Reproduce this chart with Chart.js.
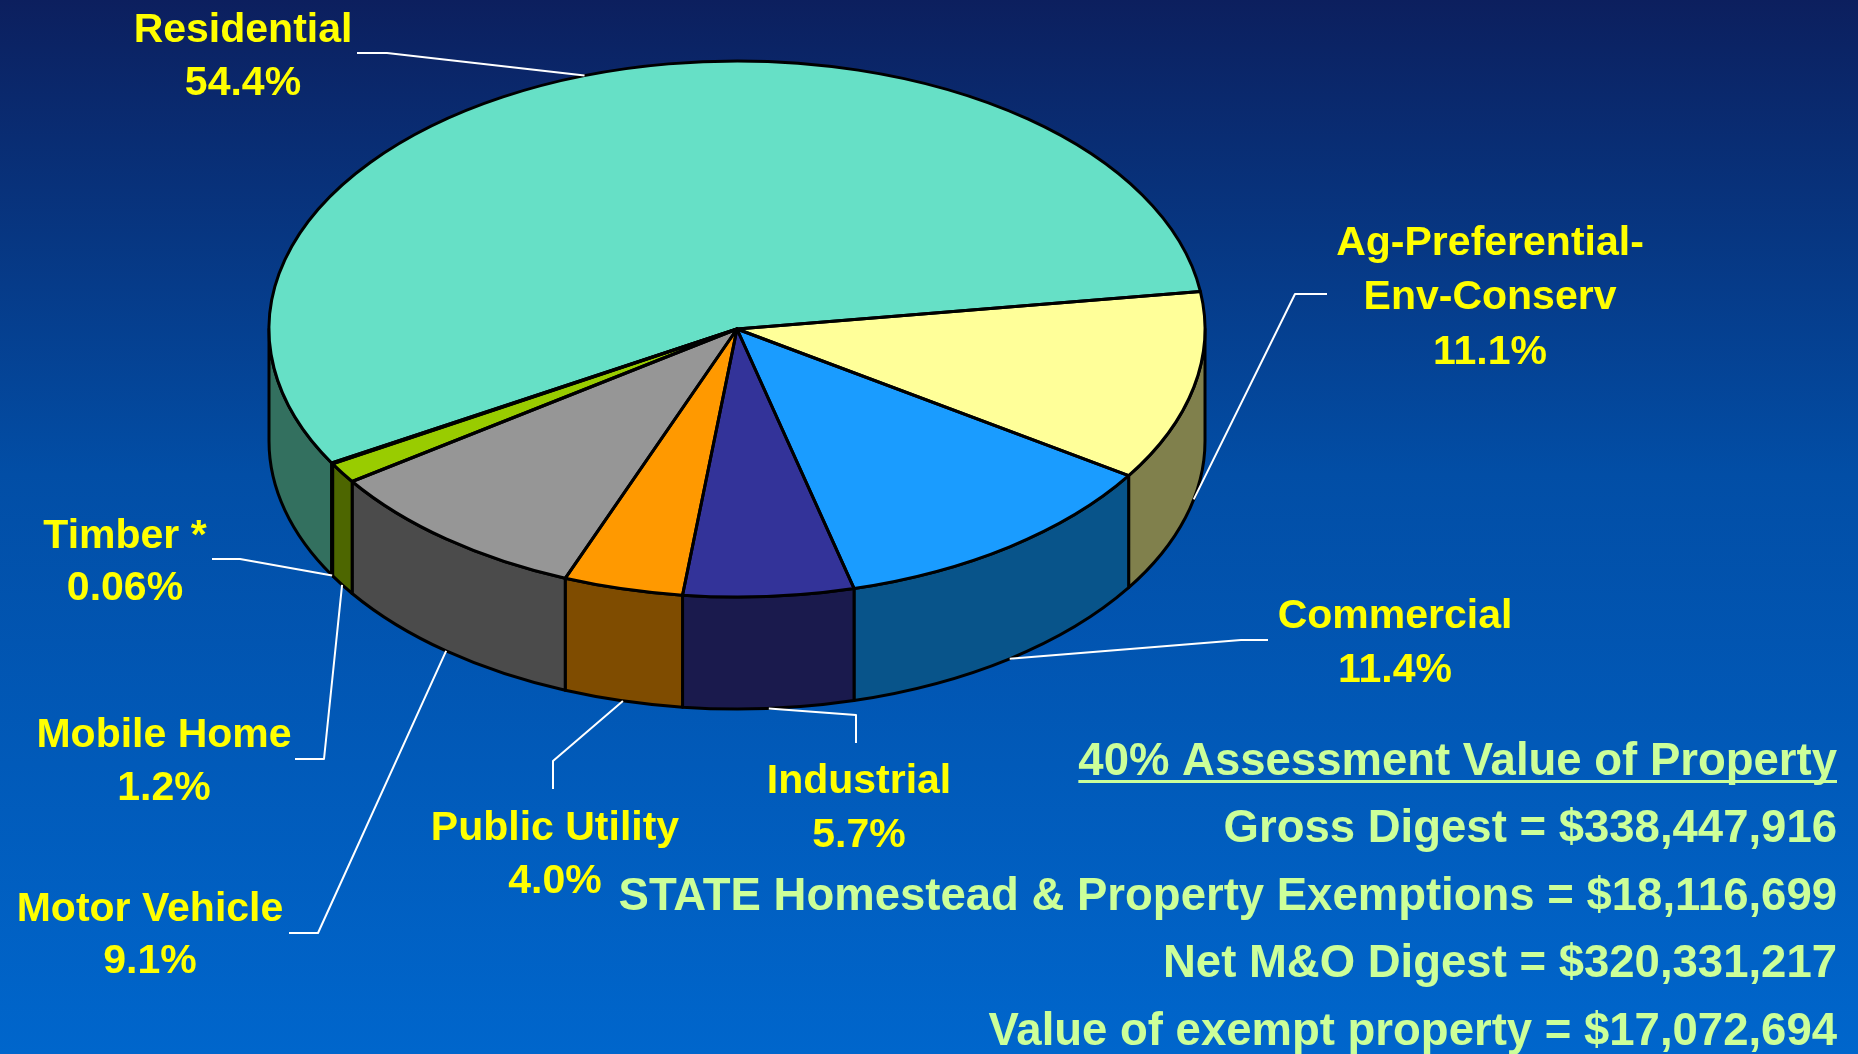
<!DOCTYPE html>
<html>
<head>
<meta charset="utf-8">
<script src="https://cdn.jsdelivr.net/npm/chart.js@4.4.1/dist/chart.umd.min.js"></script>
<style>
  html, body { margin: 0; padding: 0; overflow: hidden; background: #0a3a88; }
  #pie { display: block; }
</style>
</head>
<body>
<canvas id="pie" width="1858" height="1054"></canvas>
<script>
    // data
    const categories = ["Residential", "Ag-Preferential-Env-Conserv", "Commercial", "Industrial",
        "Public Utility", "Motor Vehicle", "Mobile Home", "Timber *"];
    const shares = [54.4, 11.1, 11.4, 5.7, 4.0, 9.1, 1.2, 0.06];
    const shareLabels = ["54.4%", "11.1%", "11.4%", "5.7%", "4.0%", "9.1%", "1.2%", "0.06%"];
    const topColors = ["#66e0c6", "#ffff99", "#1a9cff", "#333399", "#ff9900", "#969696", "#99cc00", "#2f8f5f"];
    const sideColors = ["#33705f", "#80804c", "#08548a", "#1a1a4d", "#7f4c00", "#4b4b4b", "#4d6600", "#184830"];
    const summaryTitle = "40% Assessment Value of Property";
    const summaryLines = [
        "Gross Digest = $338,447,916",
        "STATE Homestead & Property Exemptions = $18,116,699",
        "Net M&O Digest = $320,331,217",
        "Value of exempt property = $17,072,694"
    ];

    // layout of the 3d pie and its labels
    const PIE = { cx: 737, cy: 329, rx: 468, ry: 268, depth: 112 };
    const labelLayout = [
        { lines: ["Residential"], x: 243, y: [42, 95], leader: [[357, 53], [387, 53]] },
        { lines: ["Ag-Preferential-", "Env-Conserv"], x: 1490, y: [255, 309, 364], leader: [[1327, 294], [1295, 294]] },
        { lines: ["Commercial"], x: 1395, y: [628, 682], leader: [[1268, 640], [1241, 640]] },
        { lines: ["Industrial"], x: 859, y: [793, 847], leader: [[856, 743], [856, 715]] },
        { lines: ["Public Utility"], x: 555, y: [840, 893], leader: [[553, 789], [553, 761]] },
        { lines: ["Motor Vehicle"], x: 150, y: [921, 973], leader: [[289, 933], [318, 933]] },
        { lines: ["Mobile Home"], x: 164, y: [747, 800], leader: [[295, 759], [324, 759]] },
        { lines: ["Timber *"], x: 125, y: [548, 600], leader: [[212, 559], [240, 559]] }
    ];

    function arcAngles(arc) {
        const p = arc.getProps(["startAngle", "endAngle"], true);
        return [p.startAngle, p.endAngle];
    }

    const pie3d = {
        id: "pie3d",
        beforeDraw(chart) {
            const ctx = chart.ctx;
            const g = ctx.createLinearGradient(0, 0, 0, chart.height);
            g.addColorStop(0, "#0c1f5e");
            g.addColorStop(0.45, "#024ea6");
            g.addColorStop(1, "#0066cc");
            ctx.save();
            ctx.fillStyle = g;
            ctx.fillRect(0, 0, chart.width, chart.height);
            ctx.restore();
        },
        beforeDatasetsDraw(chart) {
            const ctx = chart.ctx;
            const arcs = chart.getDatasetMeta(0).data;
            const { cx, cy, rx, ry, depth } = PIE;

            // side walls, only the front half is visible
            arcs.forEach((arc, i) => {
                const [a, b] = arcAngles(arc);
                for (let k = -1; k <= 2; k++) {
                    const lo = Math.max(a, 2 * Math.PI * k);
                    const hi = Math.min(b, 2 * Math.PI * k + Math.PI);
                    if (hi <= lo) continue;
                    ctx.beginPath();
                    ctx.ellipse(cx, cy, rx, ry, 0, lo, hi);
                    ctx.ellipse(cx, cy + depth, rx, ry, 0, hi, lo, true);
                    ctx.closePath();
                    ctx.fillStyle = sideColors[i];
                    ctx.fill();
                    ctx.lineWidth = 3;
                    ctx.lineJoin = "round";
                    ctx.strokeStyle = "#000";
                    ctx.stroke();
                }
            });

            // squash the library's pie into the top face
            const a0 = arcs[0];
            const s = rx / a0.outerRadius;
            ctx.save();
            ctx.translate(cx, cy);
            ctx.scale(s, s * ry / rx);
            ctx.translate(-a0.x, -a0.y);
        },
        afterDatasetsDraw(chart) {
            const ctx = chart.ctx;
            ctx.restore();
            const arcs = chart.getDatasetMeta(0).data;
            const { cx, cy, rx, ry, depth } = PIE;

            // outlines of the top face
            ctx.save();
            ctx.strokeStyle = "#000";
            ctx.lineWidth = 3;
            ctx.lineJoin = "round";
            arcs.forEach(arc => {
                const [a, b] = arcAngles(arc);
                ctx.beginPath();
                ctx.moveTo(cx, cy);
                ctx.ellipse(cx, cy, rx, ry, 0, a, b);
                ctx.closePath();
                ctx.stroke();
            });

            // leader lines
            ctx.strokeStyle = "#ffffff";
            ctx.lineWidth = 2;
            arcs.forEach((arc, i) => {
                const [a, b] = arcAngles(arc);
                const mid = (a + b) / 2;
                const px = cx + rx * Math.cos(mid);
                const py = cy + ry * Math.sin(mid) + (Math.sin(mid) > 0 ? depth : 0);
                const pts = labelLayout[i].leader;
                ctx.beginPath();
                ctx.moveTo(pts[0][0], pts[0][1]);
                for (let j = 1; j < pts.length; j++) ctx.lineTo(pts[j][0], pts[j][1]);
                ctx.lineTo(px, py);
                ctx.stroke();
            });

            // category labels
            ctx.fillStyle = "#ffff00";
            ctx.font = "bold 41px 'Liberation Sans', Arial, sans-serif";
            ctx.textAlign = "center";
            ctx.textBaseline = "alphabetic";
            labelLayout.forEach((lay, i) => {
                const lines = lay.lines.concat([shareLabels[i]]);
                lines.forEach((t, j) => ctx.fillText(t, lay.x, lay.y[j]));
            });

            // summary block
            const right = 1837;
            ctx.fillStyle = "#ccff99";
            ctx.font = "bold 45.5px 'Liberation Sans', Arial, sans-serif";
            ctx.textAlign = "right";
            ctx.fillText(summaryTitle, right, 775);
            const w = ctx.measureText(summaryTitle).width;
            ctx.fillRect(right - w, 780, w, 3);
            summaryLines.forEach((t, j) => ctx.fillText(t, right, 842 + j * 67.7));
            ctx.restore();
        }
    };

    new Chart(document.getElementById("pie"), {
        type: "pie",
        data: {
            labels: categories,
            datasets: [{
                data: shares,
                backgroundColor: topColors,
                borderWidth: 0,
                hoverOffset: 0
            }]
        },
        options: {
            responsive: false,
            animation: false,
            events: [],
            rotation: 240,
            layout: { padding: { left: 267, right: 651, top: 57, bottom: 57 } },
            plugins: { legend: { display: false }, tooltip: { enabled: false } }
        },
        plugins: [pie3d]
    });
</script>
</body>
</html>
